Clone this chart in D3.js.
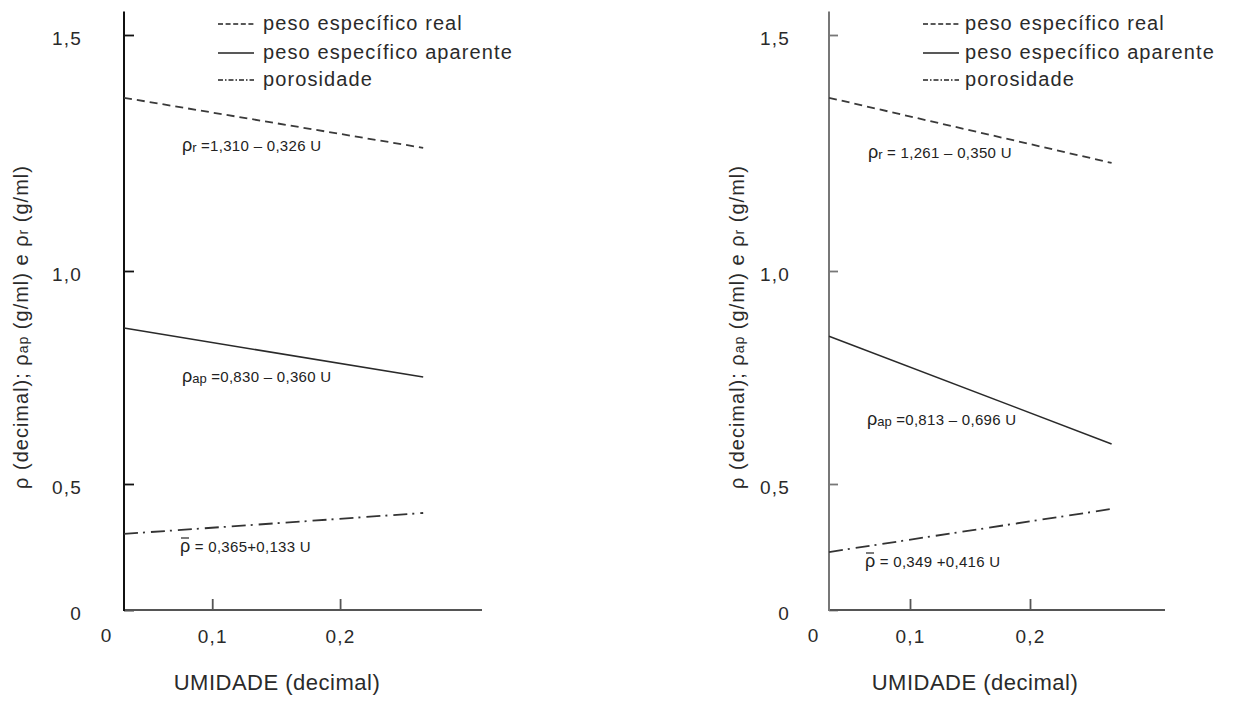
<!DOCTYPE html>
<html>
<head>
<meta charset="utf-8">
<script src="https://cdn.jsdelivr.net/npm/d3@7"></script>
<style>
  body { margin: 0; background: #fff; }
  svg { display: block; font-family: "Liberation Sans", Arial, sans-serif; }
</style>
</head>
<body>
<svg id="chart" width="1256" height="702"></svg>
<script>
// Moisture U (decimal) at the two ends of each fitted line
const umidadeA = [0.031, 0.265];
const umidadeB = [0.0325, 0.268];
// Real specific weight ρr (g/ml)
const realA = [1.367, 1.261];
const realB = [1.367, 1.229];
// Apparent specific weight ρap (g/ml)
const aparenteA = [0.866, 0.751];
const aparenteB = [0.847, 0.594];
// Porosity ρ (decimal)
const porosidadeA = [0.302, 0.385];
const porosidadeB = [0.230, 0.401];

const seriesNames = ["peso específico real", "peso específico aparente", "porosidade"];

// Vertical axis: the printed scale is not evenly spaced, so the ticks are the scale's breakpoints
const yTickValues = [0, 0.5, 1.0, 1.5];
const yTickLabels = ["0", "0,5", "1,0", "1,5"];
const yAxisTop = 1.55;

const xTickValues = [0.1, 0.2];
const xTickLabels = ["0,1", "0,2"];
const xDomainA = [0.031, 0.311];
const xDomainB = [0.0325, 0.3125];

// Regression equations written next to each line: [symbol, subscript, rest, overbar]
const equationsA = [
  ["ρ", "r", " =1,310 – 0,326 U", false],
  ["ρ", "ap", " =0,830 – 0,360 U", false],
  ["ρ", "", " = 0,365+0,133 U", true]
];
const equationsB = [
  ["ρ", "r", " = 1,261 – 0,350 U", false],
  ["ρ", "ap", " =0,813 – 0,696 U", false],
  ["ρ", "", " = 0,349 +0,416 U", true]
];

const xTitle = "UMIDADE (decimal)";
const originLabel = "0";

// ---- layout ----
const svg = d3.select("#chart");
const yScale = d3.scaleLinear()
  .domain(yTickValues)
  .range([610, 484, 271, 35]);

const lineStyles = [
  { dash: "8,5", width: 1.8, color: "#3a3a3a", legendDash: "5,2.6" },
  { dash: null, width: 1.5, color: "#2a2a2a", legendDash: null },
  { dash: "14,5,2,6", width: 1.8, color: "#333", legendDash: "5,2,1.5,2" }
];

const panels = [
  {
    u: umidadeA, series: [realA, aparenteA, porosidadeA], eq: equationsA, xDomain: xDomainA,
    x0: 124, x1: 482, yAxisColor: "#111", xAxisColor: "#555", labelPad: 42, yTick: 10,
    legendX: 218, legendTextX: 263, originX: 106, titleX: 21, xTitleX: 277,
    eqPos: [[182, 146], [182, 377], [180, 547]]
  },
  {
    u: umidadeB, series: [realB, aparenteB, porosidadeB], eq: equationsB, xDomain: xDomainB,
    x0: 829, x1: 1165, yAxisColor: "#777", xAxisColor: "#555", labelPad: 39, yTick: 9,
    legendX: 923, legendTextX: 965, originX: 813, titleX: 737, xTitleX: 975,
    eqPos: [[868, 153], [867, 420], [865, 562]]
  }
];

const legendRows = [24, 53, 80];

panels.forEach(p => {
  const g = svg.append("g");
  const xScale = d3.scaleLinear().domain(p.xDomain).range([p.x0, p.x1]);

  // y axis: ticks point inward, labels sit well to the left
  const yAxis = d3.axisLeft(yScale)
    .tickValues(yTickValues)
    .tickFormat((d, i) => yTickLabels[i])
    .tickSizeInner(-p.yTick)
    .tickSizeOuter(0)
    .tickPadding(p.labelPad);
  const ya = g.append("g").attr("transform", `translate(${p.x0},0)`).call(yAxis);
  ya.select(".domain").remove();
  ya.selectAll(".tick line").attr("stroke", p.yAxisColor).attr("stroke-width", 1.8);
  ya.selectAll(".tick text")
    .attr("font-size", 19).attr("fill", "#2a2a2a")
    .attr("font-family", "Liberation Sans, Arial, sans-serif")
    .attr("letter-spacing", 1.2)
    .attr("dy", "0.48em");

  // x axis: ticks point up into the plot
  const xAxis = d3.axisBottom(xScale)
    .tickValues(xTickValues)
    .tickFormat((d, i) => xTickLabels[i])
    .tickSizeInner(-11)
    .tickSizeOuter(0)
    .tickPadding(20);
  const xa = g.append("g").attr("transform", `translate(0,${yScale(0)})`).call(xAxis);
  xa.select(".domain").remove();
  xa.selectAll(".tick line").attr("stroke", p.xAxisColor).attr("stroke-width", 1.8);
  xa.selectAll(".tick text")
    .attr("font-size", 19).attr("fill", "#2a2a2a")
    .attr("font-family", "Liberation Sans, Arial, sans-serif")
    .attr("letter-spacing", 1.2);

  // axis lines
  g.append("line")
    .attr("x1", p.x0).attr("x2", p.x1)
    .attr("y1", yScale(0)).attr("y2", yScale(0))
    .attr("stroke", p.xAxisColor).attr("stroke-width", 2);
  g.append("line")
    .attr("x1", p.x0).attr("x2", p.x0)
    .attr("y1", yScale(yAxisTop)).attr("y2", yScale(0) + 1)
    .attr("stroke", p.yAxisColor).attr("stroke-width", 2);

  // shared origin label
  g.append("text")
    .attr("x", p.originX).attr("y", yScale(0) + 32)
    .attr("text-anchor", "middle")
    .attr("font-size", 19).attr("fill", "#2a2a2a")
    .text(originLabel);

  // fitted lines
  const line = d3.line().x(d => xScale(d[0])).y(d => yScale(d[1]));
  p.series.forEach((vals, i) => {
    const st = lineStyles[i];
    g.append("path")
      .datum(p.u.map((u, k) => [u, vals[k]]))
      .attr("d", line)
      .attr("fill", "none")
      .attr("stroke", st.color)
      .attr("stroke-width", st.width)
      .attr("stroke-dasharray", st.dash);
  });

  // equations
  p.eq.forEach((e, i) => {
    const [ex, ey] = p.eqPos[i];
    const t = g.append("text")
      .attr("x", ex).attr("y", ey + 5)
      .attr("fill", "#222");
    t.append("tspan").attr("font-size", 18).text(e[0]);
    if (e[1]) {
      t.append("tspan").attr("font-size", 13).attr("dy", 1).text(e[1]);
      t.append("tspan").attr("font-size", 15).attr("dy", -1).attr("letter-spacing", 0.3).text(e[2]);
    } else {
      t.append("tspan").attr("font-size", 15).attr("letter-spacing", 0.3).text(e[2]);
    }
    if (e[3]) {
      g.append("line")
        .attr("x1", ex + 1).attr("x2", ex + 9)
        .attr("y1", ey - 9).attr("y2", ey - 9)
        .attr("stroke", "#222").attr("stroke-width", 1.2);
    }
  });

  // legend
  seriesNames.forEach((name, i) => {
    const st = lineStyles[i];
    const y = legendRows[i];
    g.append("line")
      .attr("x1", p.legendX).attr("x2", p.legendX + 36)
      .attr("y1", y).attr("y2", y)
      .attr("stroke", "#222").attr("stroke-width", 1.4)
      .attr("stroke-dasharray", st.legendDash);
    g.append("text")
      .attr("x", p.legendTextX).attr("y", y + 6)
      .attr("font-size", 20).attr("letter-spacing", 1.1)
      .attr("fill", "#2a2a2a")
      .text(name);
  });

  // x axis title
  g.append("text")
    .attr("x", p.xTitleX).attr("y", 690)
    .attr("text-anchor", "middle")
    .attr("font-size", 22).attr("letter-spacing", 0.5)
    .attr("fill", "#2a2a2a")
    .text(xTitle);

  // y axis title (rotated)
  const yt = g.append("text")
    .attr("transform", `translate(${p.titleX + 7},327) rotate(-90)`)
    .attr("text-anchor", "middle")
    .attr("font-size", 20).attr("letter-spacing", 1)
    .attr("fill", "#2a2a2a");
  yt.append("tspan").text("ρ (decimal); ρ");
  yt.append("tspan").attr("font-size", 14).text("ap");
  yt.append("tspan").text(" (g/ml) e ρ");
  yt.append("tspan").attr("font-size", 14).text("r");
  yt.append("tspan").text(" (g/ml)");
});
</script>
</body>
</html>
